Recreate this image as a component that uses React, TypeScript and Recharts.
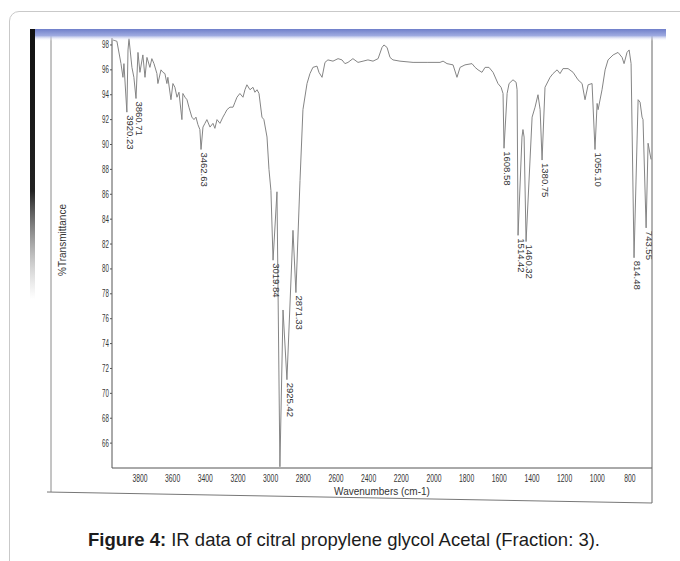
import React from "react";
import { ComposedChart, Line, Scatter, XAxis, YAxis } from "recharts";

// spectrum (cm-1, %T)
const wavenumbers = [
  3965, 3941, 3916, 3904, 3898, 3880, 3873, 3867, 3849, 3837, 3824, 3812, 3800, 3782, 3769, 3757,
  3739, 3727, 3714, 3696, 3690, 3671, 3659, 3647, 3635, 3629, 3610, 3598, 3586, 3573, 3561, 3543,
  3537, 3524, 3512, 3500, 3482, 3469, 3457, 3445, 3433, 3426, 3414, 3402, 3390, 3371, 3353, 3341,
  3328, 3310, 3292, 3279, 3267, 3249, 3230, 3218, 3206, 3188, 3169, 3157, 3145, 3126, 3108, 3096,
  3083, 3071, 3053, 3041, 3022, 3010, 2998, 2985, 2961, 2943, 2924, 2900, 2863, 2845, 2820, 2802,
  2777, 2759, 2741, 2716, 2704, 2685, 2667, 2649, 2618, 2587, 2563, 2545, 2526, 2496, 2465, 2434,
  2404, 2373, 2342, 2318, 2306, 2287, 2269, 2251, 2208, 2128, 2042, 1963, 1944, 1920, 1883, 1859,
  1840, 1810, 1767, 1748, 1730, 1706, 1687, 1663, 1638, 1608, 1589, 1577, 1571, 1552, 1540, 1516,
  1497, 1491, 1485, 1461, 1455, 1448, 1436, 1399, 1381, 1363, 1350, 1338, 1320, 1289, 1271, 1246,
  1228, 1210, 1179, 1148, 1118, 1093, 1075, 1056, 1032, 1014, 1001, 995, 971, 952, 934, 903,
  873, 848, 836, 818, 805, 793, 775, 750, 738, 726, 720, 701, 689, 671,
];
const transmittance = [
  98.4, 98.3, 96.5, 95.4, 96.5, 92.6, 97.6, 98.5, 96.2, 95.4, 93.7, 97.4, 95.8, 97.2, 95.4, 97.0,
  96.2, 96.9, 96.5, 95.7, 94.9, 96.0, 95.8, 95.7, 94.9, 95.4, 93.6, 94.9, 94.6, 93.8, 94.2, 92.0,
  94.1, 93.8, 93.6, 93.0, 92.2, 92.0, 92.2, 91.6, 91.2, 89.6, 91.4, 91.7, 92.0, 91.4, 91.7, 91.3,
  92.0, 91.7, 92.2, 92.5, 92.8, 93.0, 93.0, 93.4, 93.8, 94.1, 93.8, 94.4, 94.8, 94.4, 94.6, 94.2,
  94.4, 94.1, 92.2, 92.0, 90.6, 88.0, 86.3, 80.7, 86.2, 64.1, 76.7, 71.1, 83.1, 78.1, 87.1, 92.8,
  94.9, 95.7, 96.2, 96.3, 95.8, 95.4, 96.6, 96.8, 96.7, 96.9, 96.8, 96.5, 96.6, 96.9, 96.6, 96.7,
  96.8, 96.7, 96.9, 97.8, 98.0, 97.8, 97.0, 96.8, 96.7, 96.6, 96.6, 96.6, 96.7, 96.5, 96.4, 95.4,
  96.2, 96.4, 96.5, 96.2, 96.0, 95.8, 96.2, 96.2, 95.8, 94.9, 94.6, 94.1, 89.7, 94.1, 94.9, 95.2,
  95.0, 94.4, 82.7, 90.6, 91.2, 90.6, 82.2, 92.2, 93.0, 94.0, 92.8, 88.75, 94.6, 95.4, 95.7, 96.0,
  95.7, 96.1, 96.1, 95.8, 95.2, 94.9, 93.6, 94.8, 94.9, 89.6, 93.3, 92.8, 94.4, 96.0, 96.8, 97.2,
  97.4, 97.0, 96.5, 97.4, 97.6, 96.5, 80.9, 93.6, 93.4, 92.2, 92.0, 83.3, 90.1, 88.8,
];

const peakWavenumbers = [3880, 3824, 3426, 2985, 2900, 2845, 1571, 1485, 1436, 1338, 1014, 775, 701];
const peakTransmittance = [92.6, 93.7, 89.6, 80.7, 71.1, 78.1, 89.7, 82.7, 82.2, 88.75, 89.6, 80.9, 83.3];
const peakLabels = [
  "3920.23", "3860.71", "3462.63", "3019.84", "2925.42", "2871.33", "1608.58",
  "1514.42", "1460.32", "1380.75", "1055.10", "814.48", "743.55",
];

const xTicks = [3800, 3600, 3400, 3200, 3000, 2800, 2600, 2400, 2200, 2000, 1800, 1600, 1400, 1200, 1000, 800];
const yTicks = [66, 68, 70, 72, 74, 76, 78, 80, 82, 84, 86, 88, 90, 92, 94, 96, 98];

const spectrum = wavenumbers.map((w, i) => ({ w, t: transmittance[i] }));
const peaks = peakWavenumbers.map((w, i) => ({ w, t: peakTransmittance[i], label: peakLabels[i] }));

const FONT = "'Liberation Sans', Arial, sans-serif";
const INK = "#353535";

const XTick = ({ x, y, payload }: any) => (
  <g transform={`translate(${x},${y}) scale(0.68,1)`}>
    <text x={0} y={0} dy={14} textAnchor="middle" fontSize={10} fontFamily={FONT} fill={INK}>
      {payload.value}
    </text>
  </g>
);

const YTick = ({ x, y, payload }: any) => (
  <g transform={`translate(${x},${y}) scale(0.62,1)`}>
    <text x={0} y={0} dy={3.5} textAnchor="end" fontSize={10} fontFamily={FONT} fill={INK}>
      {payload.value}
    </text>
  </g>
);

const PeakLabel = ({ cx, cy, payload }: any) => {
  if (cx == null || cy == null) return null;
  const y = cy + 3;
  return (
    <text
      x={cx}
      y={y}
      transform={`rotate(90 ${cx} ${y})`}
      fontSize={9.5}
      fontFamily={FONT}
      fill={INK}
    >
      {payload.label}
    </text>
  );
};

export default function App() {
  return (
    <div style={{ position: "fixed", left: 0, top: 0, width: 680, height: 561, overflow: "hidden", background: "#fff" }}>
      <div
        style={{
          position: "absolute", left: 9, top: 11, width: 720, height: 600,
          border: "1px solid #c9c9c9", borderRadius: 10,
        }}
      />
      <div style={{ position: "absolute", left: 0, top: 0 }}>
        <ComposedChart
          width={680}
          height={561}
          data={spectrum}
          margin={{ top: 38, right: 28, bottom: 66, left: 62 }}
        >
          <XAxis
            dataKey="w"
            type="number"
            reversed
            domain={[665, 3971]}
            allowDataOverflow
            ticks={xTicks}
            interval={0}
            height={27}
            tickSize={0}
            tickMargin={0}
            tick={<XTick />}
            stroke="#555"
          />
          <YAxis
            type="number"
            domain={[64, 98.56]}
            allowDataOverflow
            ticks={yTicks}
            interval={0}
            width={50}
            tickSize={2}
            tickMargin={1}
            tick={<YTick />}
            stroke="#555"
          />
          <Line
            dataKey="t"
            type="linear"
            stroke="#858585"
            strokeWidth={1}
            dot={false}
            activeDot={false}
            isAnimationActive={false}
          />
          <Scatter data={peaks} dataKey="t" shape={<PeakLabel />} isAnimationActive={false} />
        </ComposedChart>
      </div>
      <svg width={680} height={561} style={{ position: "absolute", left: 0, top: 0, pointerEvents: "none" }}>
        <defs>
          <linearGradient id="band" x1="0" y1="0" x2="0" y2="1">
            <stop offset="0" stopColor="#6f7fca" />
            <stop offset="0.55" stopColor="#9eaae0" />
            <stop offset="1" stopColor="#ffffff" stopOpacity="0" />
          </linearGradient>
          <linearGradient id="bar" x1="0" y1="0" x2="0" y2="1">
            <stop offset="0" stopColor="#111" />
            <stop offset="0.6" stopColor="#222" />
            <stop offset="1" stopColor="#888" stopOpacity="0" />
          </linearGradient>
        </defs>
        <line x1={51} y1={33} x2={51} y2={492} stroke="#8a8a8a" strokeWidth={1} />
        <line x1={47} y1={492} x2={652} y2={503} stroke="#777" strokeWidth={1} />
        <line x1={652} y1={33} x2={652} y2={503} stroke="#666" strokeWidth={1} />
        <rect x={30} y={29} width={636} height={12} fill="url(#band)" />
        <rect x={30} y={29} width={5} height={270} fill="url(#bar)" />
        <text x={382} y={495} textAnchor="middle" fontSize={10} fontFamily={FONT} fill={INK}>
          Wavenumbers (cm-1)
        </text>
        <text
          x={62}
          y={240}
          transform="rotate(-90 62 240)"
          textAnchor="middle"
          dominantBaseline="central"
          fontSize={10}
          fontFamily={FONT}
          fill={INK}
        >
          %Transmittance
        </text>
      </svg>
      <div
        style={{
          position: "absolute", left: 4, top: 528, width: 680, textAlign: "center",
          fontFamily: FONT, fontSize: 18.5, lineHeight: "24px", color: "#1c1c1c",
        }}
      >
        <b>Figure 4:</b> IR data of citral propylene glycol Acetal (Fraction: 3).
      </div>
    </div>
  );
}
